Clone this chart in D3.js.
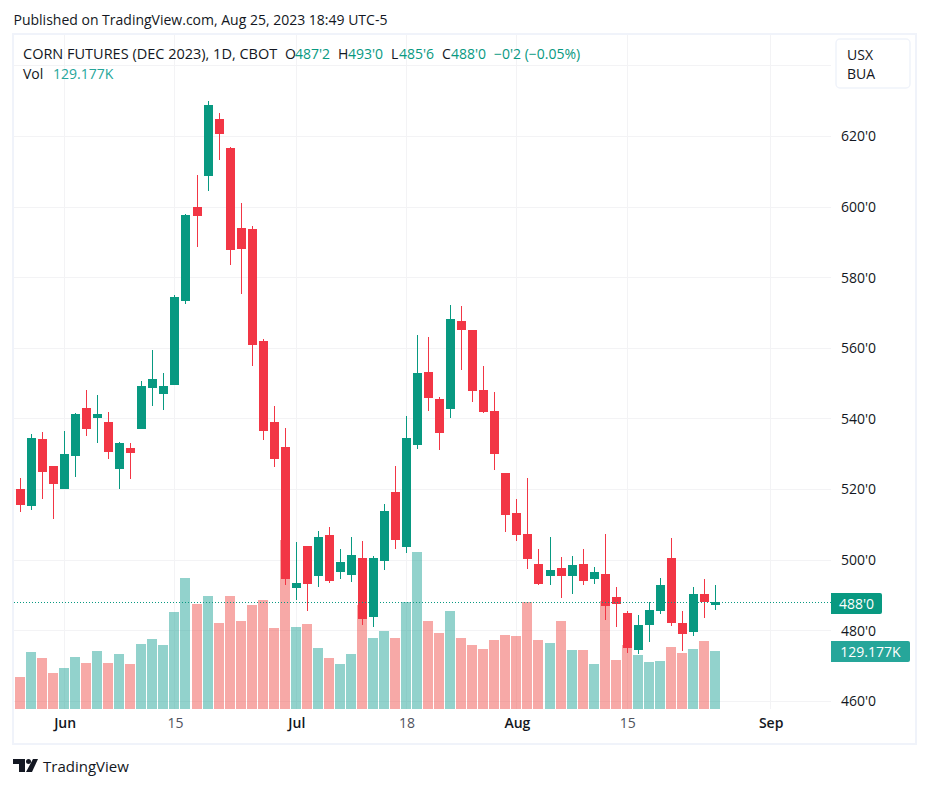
<!DOCTYPE html>
<html>
<head>
<meta charset="utf-8">
<script src="https://cdn.jsdelivr.net/npm/d3@7"></script>
<style>
  body { margin: 0; background: #fff; }
  text { font-family: "Open Sans", sans-serif; }
</style>
</head>
<body>
<svg id="chart" width="929" height="788"></svg>
<script>
// daily prices in cents per bushel, first bar is at the left edge of the pane
const opens = [520.25,515.25,534.25,526.75,520.25,529.5,543,540.25,539,525.75,531.75,537,548.75,547,549.5,573.5,600,608.75,625,616.75,594,593.75,562,539,532,492,504,495.5,507,496.5,495.75,500.5,484,499.75,519.25,503.75,532.5,553.25,545.5,542.75,567.75,565.25,548.25,542.25,524.75,513.25,507.5,499,495.5,497.75,495.5,499,494.75,496,489.5,485,474.5,481.5,485.5,500.5,482.25,479.5,490.5,487.25];
const highs = [523.25,535.75,536.25,526.75,536.5,541.75,548.25,546.75,542,533.5,533.25,550.75,559.5,553,575,598,609,630,626.5,617,601,594.5,562.5,543.5,537.5,505,504,508.25,509.5,503.25,506.5,505.5,501.25,516,526.75,540.75,563.75,563.25,546.25,572.25,572,565.25,555,547.5,524.75,517.25,523.25,503,506.5,501,501.25,503,498,507.5,492.5,485.5,484.5,488,495,506.25,485.5,492.5,494.5,493];
const lows = [513.5,514.25,517.25,511.5,520.25,523.5,535.25,533.25,528.5,520.25,523,537,543.5,542.5,549.5,572.5,588.75,604.5,613.25,583.5,575.5,555,534,526.5,493,488.75,485.5,492.5,493.5,494.5,493.75,481.5,481,497.25,503.25,502,531.5,542.25,531.25,540.25,553.75,544.75,541.75,525.5,508,505.5,497.5,493,493,489.25,490.5,493,493.25,483,481,473.75,473.5,476.75,484.75,481.25,474.25,478.5,483.5,485.75];
const closes = [515.5,534.5,525,521.5,530,541.5,537,541.25,530.5,533.25,530.25,549.25,551.25,549.25,574.5,597.75,597.5,629,620.75,587.75,588,561,536.5,528.5,494.5,493.5,493.25,506.5,494,499.5,501.5,483.25,500.5,514,505.75,534.5,553,546,536,568.25,565.25,548,542,530,512.75,507,500.25,493.25,497.25,495.5,498.5,494,496.5,487,487.5,475,481.5,486,493,482.25,479,490.5,488,488];
// volume in thousands of contracts
const volumes = [71.3,127,113.6,80.2,91.3,115.8,102.5,129.2,102.5,122.5,100.2,144.8,155.9,142.5,216,291.8,233.9,251.7,191.5,251.7,196,231.6,242.8,180.4,376.4,182.6,189.3,135.9,113.6,100.2,122.5,231.6,158.1,173.7,158.1,238.3,349.7,196,169.3,218.3,158.1,142.5,133.6,153.7,164.8,162.6,238.3,153.7,147,196,131.4,131.4,100.2,240.5,109.1,142.5,120.3,104.7,106.9,138.1,124.7,133.6,151.4,129.177];
const clippedVolume = 107.6; // the bar before the first one, only a sliver shows

const priceTicks = [460,480,500,520,540,560,580,600,620];
const gridOnlyPrice = 640;
const timeTicks = [4,14,25,35,45,55,68];
const timeLabels = ["Jun","15","Jul","18","Aug","15","Sep"];
const monthLabels = ["Jun","Jul","Aug","Sep"];

const lastClose = 488;
const lastVolumeLabel = "129.177K";

const upColor = "#089981", downColor = "#F23645";
const upVol = "#26a69a", downVol = "#ef5350";
const textColor = "#131722";
const gridColor = "#f3f3f5", frameColor = "#f0f3fa";

// text, colour, left edge of each legend piece
const legendParts = [
  ["CORN FUTURES (DEC 2023), 1D, CBOT", textColor, 23],
  ["O", textColor, 285], ["487'2", upColor, 295],
  ["H", textColor, 338], ["493'0", upColor, 348],
  ["L", textColor, 391], ["485'6", upColor, 399],
  ["C", textColor, 442], ["488'0", upColor, 451],
  ["\u22120'2 (\u22120.05%)", upColor, 494]
];

const paneLeft = 14, paneRight = 831, paneTop = 35, paneBottom = 709;

const svg = d3.select("#chart");
const x = d3.scaleLinear().domain([0, 63]).range([20.5, 715.5]);
const y = d3.scaleLinear().domain([460, 620]).range([701.3, 136.4]);
const yVol = d3.scaleLinear().domain([0, 129.177]).range([paneBottom, 651]);

const fmtPrice = d => Math.floor(d) + "'" + Math.round((d - Math.floor(d)) * 8);

svg.append("defs").append("clipPath").attr("id", "pane")
  .append("rect").attr("x", paneLeft).attr("y", paneTop)
  .attr("width", paneRight - paneLeft).attr("height", paneBottom - paneTop);

// grid
const grid = svg.append("g").attr("shape-rendering", "crispEdges").attr("stroke", gridColor);
grid.selectAll("line.h").data(priceTicks.concat(gridOnlyPrice)).join("line").attr("class", "h")
  .attr("x1", paneLeft).attr("x2", paneRight)
  .attr("y1", d => Math.floor(y(d)) + 0.5).attr("y2", d => Math.floor(y(d)) + 0.5);
grid.selectAll("line.v").data(timeTicks).join("line").attr("class", "v")
  .attr("x1", d => Math.floor(x(d)) + 0.5).attr("x2", d => Math.floor(x(d)) + 0.5)
  .attr("y1", paneTop).attr("y2", paneBottom);

// outer frame
svg.append("rect").attr("x", 13).attr("y", 34).attr("width", 903).attr("height", 710)
  .attr("fill", "none").attr("stroke", frameColor).attr("stroke-width", 2);

const pane = svg.append("g").attr("clip-path", "url(#pane)").attr("shape-rendering", "crispEdges");

// volume bars under the candles
pane.append("rect")
  .attr("x", Math.floor(x(-1)) - 5).attr("width", 10)
  .attr("y", yVol(clippedVolume)).attr("height", paneBottom - yVol(clippedVolume))
  .attr("fill", upVol).attr("opacity", 0.5);
pane.selectAll("rect.vol").data(volumes).join("rect").attr("class", "vol")
  .attr("x", (d, i) => Math.floor(x(i)) - 5).attr("width", 10)
  .attr("y", d => Math.round(yVol(d))).attr("height", d => paneBottom - Math.round(yVol(d)))
  .attr("fill", (d, i) => closes[i] >= opens[i] ? upVol : downVol)
  .attr("opacity", 0.5);

// candles
const candles = pane.selectAll("g.candle").data(opens).join("g").attr("class", "candle")
  .attr("fill", (d, i) => closes[i] >= opens[i] ? upColor : downColor);
candles.append("rect")
  .attr("x", (d, i) => Math.floor(x(i))).attr("width", 1)
  .attr("y", (d, i) => Math.round(y(highs[i])))
  .attr("height", (d, i) => Math.round(y(lows[i])) - Math.round(y(highs[i])));
candles.append("rect")
  .attr("x", (d, i) => Math.floor(x(i)) - 4).attr("width", 9)
  .attr("y", (d, i) => Math.round(y(Math.max(opens[i], closes[i]))))
  .attr("height", (d, i) => Math.max(1, Math.round(y(Math.min(opens[i], closes[i]))) - Math.round(y(Math.max(opens[i], closes[i])))));

// last price line
svg.append("line")
  .attr("x1", paneLeft).attr("x2", paneRight)
  .attr("y1", Math.floor(y(lastClose)) + 0.5).attr("y2", Math.floor(y(lastClose)) + 0.5)
  .attr("stroke", upColor).attr("stroke-dasharray", "1 2");

// axes
const priceAxis = d3.axisRight(y).tickValues(priceTicks).tickSize(0).tickPadding(0).tickFormat(fmtPrice);
svg.append("g").attr("transform", `translate(${paneRight + 10},0)`).call(priceAxis)
  .call(g => g.select(".domain").remove())
  .selectAll("text").attr("font-size", 14).attr("fill", textColor)
  .style("font-family", "'Open Sans', sans-serif");

const timeAxis = d3.axisBottom(x).tickValues(timeTicks).tickSize(0).tickPadding(0)
  .tickFormat((d, i) => timeLabels[i]);
svg.append("g").attr("transform", `translate(0,${paneBottom + 9})`).call(timeAxis)
  .call(g => g.select(".domain").remove())
  .selectAll("text").attr("font-size", 14)
  .style("font-family", "'Open Sans', sans-serif")
  .attr("font-weight", (d, i) => monthLabels.includes(timeLabels[i]) ? 600 : 400)
  .attr("fill", (d, i) => monthLabels.includes(timeLabels[i]) ? textColor : "#50535e");

// last value tags
function valueTag(top, h, w, fill, label) {
  svg.append("path")
    .attr("d", `M${paneRight},${top}h${w - 2}a2,2 0 0 1 2,2v${h - 4}a2,2 0 0 1 -2,2h${-(w - 2)}z`)
    .attr("fill", fill);
  svg.append("text").attr("x", paneRight + w / 2).attr("y", top + h / 2 + 5)
    .attr("text-anchor", "middle").attr("font-size", 14).attr("fill", "#fff").text(label);
}
valueTag(593, 21, 51, upColor, fmtPrice(lastClose));
valueTag(641, 21, 79, upVol, lastVolumeLabel);

// header and legend
svg.append("text").attr("x", 13.5).attr("y", 25).attr("font-size", 14).attr("fill", textColor)
  .text("Published on TradingView.com, Aug 25, 2023 18:49 UTC-5");

svg.selectAll("text.legend").data(legendParts).join("text").attr("class", "legend")
  .attr("x", d => d[2]).attr("y", 59)
  .attr("font-size", (d, i) => i == 0 ? 14.5 : 14)
  .attr("fill", d => d[1]).text(d => d[0]);

svg.append("text").attr("x", 23).attr("y", 79).attr("font-size", 14).attr("fill", textColor).text("Vol");
svg.append("text").attr("x", 53).attr("y", 79).attr("font-size", 14).attr("fill", upVol).text(lastVolumeLabel);

// currency / unit box
svg.append("rect").attr("x", 836).attr("y", 39).attr("width", 74).attr("height", 49).attr("rx", 4)
  .attr("fill", "#fff").attr("stroke", frameColor).attr("stroke-width", 1.5);
svg.append("text").attr("x", 847).attr("y", 60).attr("font-size", 14).attr("fill", textColor).text("USX");
svg.append("text").attr("x", 847).attr("y", 79).attr("font-size", 14).attr("fill", textColor).text("BUA");

// TradingView mark
const logo = svg.append("g").attr("fill", textColor);
logo.append("path").attr("d", "M13,759H25V772H19V764H13Z");
logo.append("circle").attr("cx", 28.5).attr("cy", 761.5).attr("r", 2.5);
logo.append("path").attr("d", "M33,759H38L32,772H26Z");
svg.append("text").attr("x", 43).attr("y", 772).attr("font-size", 15).attr("fill", textColor).text("TradingView");
</script>
</body>
</html>
